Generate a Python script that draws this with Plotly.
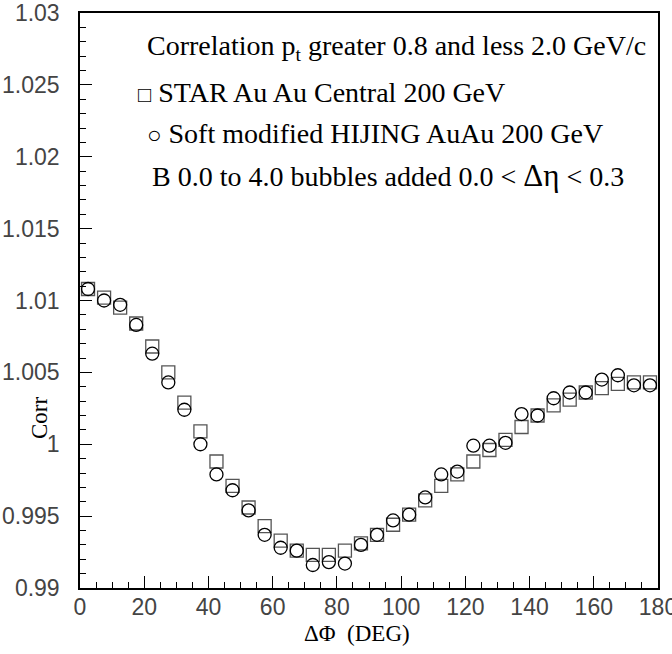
import plotly.graph_objects as go

dphi = [2.5 + 5 * i for i in range(36)]

star = [1.0108, 1.0102, 1.0095, 1.0084, 1.0068, 1.0050, 1.0029, 1.0009,
        0.9988, 0.9971, 0.9956, 0.9943, 0.9933, 0.9926, 0.9923, 0.9923,
        0.9926, 0.9931, 0.9937, 0.9944, 0.9951, 0.9961, 0.9971, 0.9979,
        0.9988, 0.9996, 1.0003, 1.0012, 1.0020, 1.0027, 1.0031, 1.0036,
        1.0039, 1.0042, 1.0043, 1.0043]

hijing = [1.0108, 1.0100, 1.0097, 1.0083, 1.0063, 1.0043, 1.0024, 1.0000,
          0.9979, 0.9968, 0.9954, 0.9937, 0.9928, 0.9926, 0.9916, 0.9918,
          0.9917, 0.9930, 0.9937, 0.9947, 0.9951, 0.9963, 0.9979, 0.9981,
          0.9999, 0.9999, 1.0001, 1.0021, 1.0020, 1.0032, 1.0036, 1.0036,
          1.0045, 1.0048, 1.0041, 1.0041]

x_ticks = [0, 20, 40, 60, 80, 100, 120, 140, 160, 180]
y_ticks = [0.99, 0.995, 1.0, 1.005, 1.01, 1.015, 1.02, 1.025, 1.03]
y_tick_labels = ["0.99", "0.995", "1", "1.005", "1.01", "1.015", "1.02", "1.025", "1.03"]

W, H = 672, 654
L, R, T, B = 80, 14, 13, 66
PW, PH = W - L - R, H - T - B

def px(x):
    return (x - L) / PW

def py(y):
    return (H - B - y) / PH

fig = go.Figure()
fig.add_trace(go.Scatter(
    x=dphi, y=star, mode="markers",
    marker=dict(symbol="square-open", size=13, color="#555555", line=dict(width=1.3)),
    showlegend=False))
fig.add_trace(go.Scatter(
    x=dphi, y=hijing, mode="markers",
    marker=dict(symbol="circle-open", size=13, color="black", line=dict(width=1.3)),
    showlegend=False))

serif = "Liberation Serif, Times New Roman, serif"
sans = "Liberation Sans, Arial, sans-serif"

texts = [
    ("Correlation p<sub>t</sub> greater 0.8 and less 2.0 GeV/c", 145, 47),
    ("<span style='font-size:22px'>□</span> STAR Au Au Central 200 GeV", 136, 93),
    (" <span style='font-size:24px'>○</span> Soft modified HIJING AuAu 200 GeV", 138, 133),
    ("B 0.0 to 4.0 bubbles added 0.0 &lt; <span style='font-size:31px'>Δη</span> &lt; 0.3", 150, 176),
]
ann = []
for t, x, y in texts:
    ann.append(dict(text=t, x=px(x), y=py(y), xref="paper", yref="paper",
                    xanchor="left", yanchor="middle", showarrow=False,
                    font=dict(family=serif, size=28, color="black")))
ann.append(dict(text="Corr", x=px(40), y=py(418), xref="paper", yref="paper",
                xanchor="center", yanchor="middle", showarrow=False, textangle=-90,
                font=dict(family=serif, size=23, color="black")))
ann.append(dict(text="ΔΦ  (DEG)", x=px(357), y=py(633), xref="paper", yref="paper",
                xanchor="center", yanchor="middle", showarrow=False,
                font=dict(family=serif, size=23, color="black")))

fig.update_layout(
    width=W, height=H,
    margin=dict(l=L, r=R, t=T, b=B, autoexpand=False),
    paper_bgcolor="white", plot_bgcolor="white",
    annotations=ann,
    xaxis=dict(range=[0, 180], tickvals=x_ticks, ticks="inside", ticklen=12,
               tickwidth=1, tickcolor="black", showgrid=False, zeroline=False,
               showline=True, linecolor="black", linewidth=1.5, mirror=True,
               automargin=False, ticklabeloverflow="allow",
               tickfont=dict(family=sans, size=23, color="#444444"),
               minor=dict(dtick=5, tick0=0, ticks="inside", ticklen=6, tickcolor="black", showgrid=False),
               ticklabelstandoff=-2),
    yaxis=dict(range=[0.99, 1.03], tickvals=y_ticks, ticktext=y_tick_labels,
               ticks="inside", ticklen=12, tickwidth=1, tickcolor="black",
               showgrid=False, zeroline=False, showline=True, linecolor="black",
               linewidth=1.5, mirror=True, automargin=False, ticklabeloverflow="allow",
               tickfont=dict(family=sans, size=23, color="#444444"),
               minor=dict(dtick=0.001, tick0=0.99, ticks="inside", ticklen=6, tickcolor="black", showgrid=False),
               ticklabelstandoff=14),
)

fig.write_html("out.html", config={"displayModeBar": False},
               post_script="document.body.style.margin='0';")
